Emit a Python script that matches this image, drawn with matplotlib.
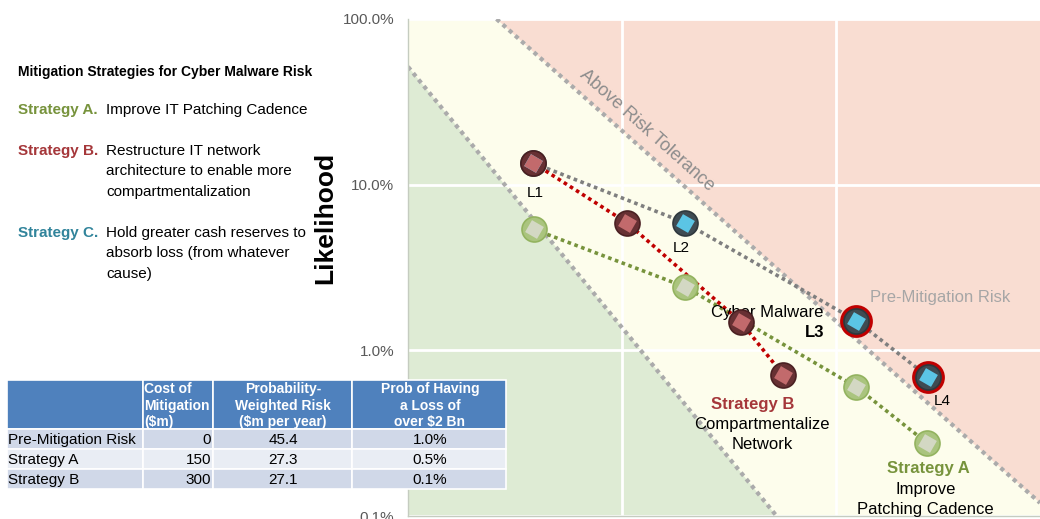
import matplotlib
matplotlib.use("Agg")
import numpy as np
import matplotlib.pyplot as plt
from matplotlib.patches import Polygon, Rectangle
from matplotlib.ticker import PercentFormatter, NullLocator, FixedLocator

plt.rcParams['font.family'] = ['Liberation Sans', 'DejaVu Sans']

# impact (log scale, no labels) and likelihood of each loss scenario L1..L4
point_labels = ["L1", "L2", "L3", "L4"]
pre_impact = [3.85, 19.6, 124, 269]
pre_like = [0.135, 0.059, 0.0151, 0.0069]
a_impact = [3.87, 19.6, 124, 266]
a_like = [0.0538, 0.0242, 0.0060, 0.00275]
b_impact = [3.85, 10.5, 35.7, 56.5]
b_like = [0.135, 0.059, 0.0149, 0.0071]

# risk tolerance boundaries (end points)
low_x = [1, 52.6]
low_y = [0.515, 0.001]
high_x = [2.59, 893]
high_y = [1.0, 0.0012]

y_ticks = [0.001, 0.01, 0.1, 1.0]
x_grid = [10, 100]

# left hand text
strategy_names = ["Strategy A.", "Strategy B.", "Strategy C."]
strategy_desc = [
    ["Improve IT Patching Cadence"],
    ["Restructure IT network", "architecture to enable more", "compartmentalization"],
    ["Hold greater cash reserves to", "absorb loss (from whatever", "cause)"],
]

# table
table_cols = ["Cost of\nMitigation\n(\\$m)",
              "Probability-\nWeighted Risk\n(\\$m per year)",
              "Prob of Having\na Loss of\nover \\$2 Bn"]
table_rows = ["Pre-Mitigation Risk", "Strategy A", "Strategy B"]
cost = [0, 150, 300]
pw_risk = [45.4, 27.3, 27.1]
prob_loss = [1.0, 0.5, 0.1]

GREEN = '#77933C'
RED = '#A5373A'
TEAL = '#31849B'

W, H = 1040, 519
fig = plt.figure(figsize=(W / 100, H / 100), dpi=100)
ax = fig.add_axes([408 / W, 3 / H, 632 / W, 497 / H])
ax.set_xscale('log')
ax.set_yscale('log')
ax.set_xlim(1, 893)
ax.set_ylim(0.001, 1)
ax.set_facecolor('#FDFDEC')

# zones
x0, x1 = ax.get_xlim()
y0, y1 = ax.get_ylim()
ax.add_patch(Polygon([(low_x[0], low_y[0]), (low_x[1], low_y[1]), (x0, y0)],
                     closed=True, fc='#DEEBD4', ec='none', zorder=0.2))
ax.add_patch(Polygon([(high_x[0], high_y[0]), (high_x[1], high_y[1]), (x1, y1)],
                     closed=True, fc='#F9DDD2', ec='none', zorder=0.2))
ax.plot(low_x, low_y, color='#ABABAB', lw=3, ls=(0, (1, 1)), zorder=1)
ax.plot(high_x, high_y, color='#ABABAB', lw=3, ls=(0, (1, 1)), zorder=1)

# grid / axes
ax.set_axisbelow(True)
ax.xaxis.set_major_locator(FixedLocator(x_grid))
ax.yaxis.set_major_locator(FixedLocator(y_ticks))
ax.xaxis.set_minor_locator(NullLocator())
ax.yaxis.set_minor_locator(NullLocator())
ax.yaxis.set_major_formatter(PercentFormatter(xmax=1, decimals=1))
ax.grid(True, color='white', lw=2)
ax.tick_params(axis='x', length=0, labelbottom=False)
ax.tick_params(axis='y', length=0, pad=10, labelsize=11, labelcolor='#595959')
for s in ['top', 'right']:
    ax.spines[s].set_visible(False)
for s in ['left', 'bottom']:
    ax.spines[s].set_color('#C5CCC0')
    ax.spines[s].set_linewidth(1)
ax.set_ylabel("Likelihood", fontsize=19, fontweight='bold')
ax.yaxis.set_label_coords((337 - 408) / 632, (516 - 218) / 497)

# paths
dots = (0, (1, 1))
ax.plot(pre_impact, pre_like, color='#7F7F7F', lw=2.6, ls=dots, zorder=3)
ax.plot(a_impact, a_like, color=GREEN, lw=2.6, ls=dots, zorder=3)
ax.plot(b_impact, b_like, color='#C00000', lw=2.6, ls=dots, zorder=3)


def chips(x, y, face, edge, inner):
    ax.plot(x, y, ls='none', marker='o', ms=18, mfc=face, mec=edge, mew=1.2, zorder=5)
    ax.plot(x, y, ls='none', marker=(4, 0, 15), ms=14, mfc=inner, mec='none', zorder=6)


ax.plot(pre_impact[2:], pre_like[2:], ls='none', marker='o', ms=21,
        mfc='#3F4B52', mec='#C00000', mew=2.6, zorder=4)
chips(pre_impact, pre_like, '#3F4B52', '#2F383D', '#5BC5E5')
chips(a_impact, a_like, '#AAC47E', '#93B35F', '#D3D8C3')
chips(b_impact, b_like, '#673033', '#4A2022', '#C26A6C')

# labels
lab_off = [(2, -30), (-4, -25), (-42, -12), (14, -24)]
for i, lab in enumerate(point_labels):
    ax.annotate(lab, (pre_impact[i], pre_like[i]), xytext=lab_off[i],
                textcoords='offset pixels', ha='center', va='center',
                fontsize=12 if i == 2 else 11,
                fontweight='bold' if i == 2 else 'normal', zorder=7)
ax.annotate("Cyber Malware", (pre_impact[2], pre_like[2]), xytext=(-89, 8),
            textcoords='offset pixels', ha='center', va='center', fontsize=12, zorder=4.5)
ax.annotate("Pre-Mitigation Risk", (pre_impact[2], pre_like[2]), xytext=(84, 23),
            textcoords='offset pixels', ha='center', va='center', fontsize=12,
            color='#A6A6A6', zorder=7)
ax.annotate("Strategy B", (b_impact[3], b_like[3]), xytext=(-31, -30),
            textcoords='offset pixels', ha='center', va='center', fontsize=12,
            fontweight='bold', color=RED, zorder=7)
for k, t in enumerate(["Compartmentalize", "Network"]):
    ax.annotate(t, (b_impact[3], b_like[3]), xytext=(-21, -50 - 20 * k),
                textcoords='offset pixels', ha='center', va='center', fontsize=12, zorder=7)
ax.annotate("Strategy A", (a_impact[3], a_like[3]), xytext=(1, -25),
            textcoords='offset pixels', ha='center', va='center', fontsize=12,
            fontweight='bold', color=GREEN, zorder=7)
for k, t in enumerate(["Improve", "Patching Cadence"]):
    ax.annotate(t, (a_impact[3], a_like[3]), xytext=(-2, -46 - 20 * k),
                textcoords='offset pixels', ha='center', va='center', fontsize=12, zorder=7)

p0 = ax.transData.transform((high_x[0], high_y[0]))
p1 = ax.transData.transform((high_x[1], high_y[1]))
ang = np.degrees(np.arctan2(p1[1] - p0[1], p1[0] - p0[0]))
ax.text((647 - 408) / 632, (516 - 130) / 497, "Above Risk Tolerance",
        transform=ax.transAxes, rotation=ang, rotation_mode='anchor',
        ha='center', va='center', fontsize=13, color='#8C8C8C', zorder=2)

# overlay in pixel coordinates for the side text and table
ov = fig.add_axes([0, 0, 1, 1], zorder=10)
ov.set_xlim(0, W)
ov.set_ylim(H, 0)
ov.axis('off')

ov.text(18, 72, "Mitigation Strategies for Cyber Malware Risk", fontsize=10,
        fontweight='bold', va='center')
ys = [[110], [151, 171, 192], [233, 253, 274]]
for name, desc, yy, c in zip(strategy_names, strategy_desc, ys, [GREEN, RED, TEAL]):
    ov.text(18, yy[0], name, color=c, fontsize=11, fontweight='bold', va='center')
    for t, y in zip(desc, yy):
        ov.text(106, y, t, fontsize=11, va='center')

col_edges = [7, 143, 213, 352, 506]
row_edges = [380, 429, 449, 469, 489]
body_colors = ['#D0D8E8', '#E9EDF4', '#D0D8E8']
for c in range(4):
    ov.add_patch(Rectangle((col_edges[c], row_edges[0]), col_edges[c + 1] - col_edges[c],
                           row_edges[1] - row_edges[0], fc='#4F81BD', ec='white', lw=1.2))
    for r in range(3):
        ov.add_patch(Rectangle((col_edges[c], row_edges[r + 1]), col_edges[c + 1] - col_edges[c],
                               row_edges[r + 2] - row_edges[r + 1], fc=body_colors[r],
                               ec='white', lw=1.2))
hx = [(144, 'left'), (283, 'center'), (430, 'center')]
for (x, ha), head in zip(hx, table_cols):
    for k, line in enumerate(head.split("\n")):
        ov.text(x, 389 + 16.7 * k, line, ha=ha, va='center', fontsize=10,
                fontweight='bold', color='white')
for r in range(3):
    y = (row_edges[r + 1] + row_edges[r + 2]) / 2 + 1
    ov.text(8, y, table_rows[r], fontsize=11, va='center')
    ov.text(211, y, f"{cost[r]}", fontsize=11, va='center', ha='right')
    ov.text(283, y, f"{pw_risk[r]:.1f}", fontsize=11, va='center', ha='center')
    ov.text(430, y, f"{prob_loss[r]:.1f}%", fontsize=11, va='center', ha='center')

fig.savefig("out.png", dpi=100)
